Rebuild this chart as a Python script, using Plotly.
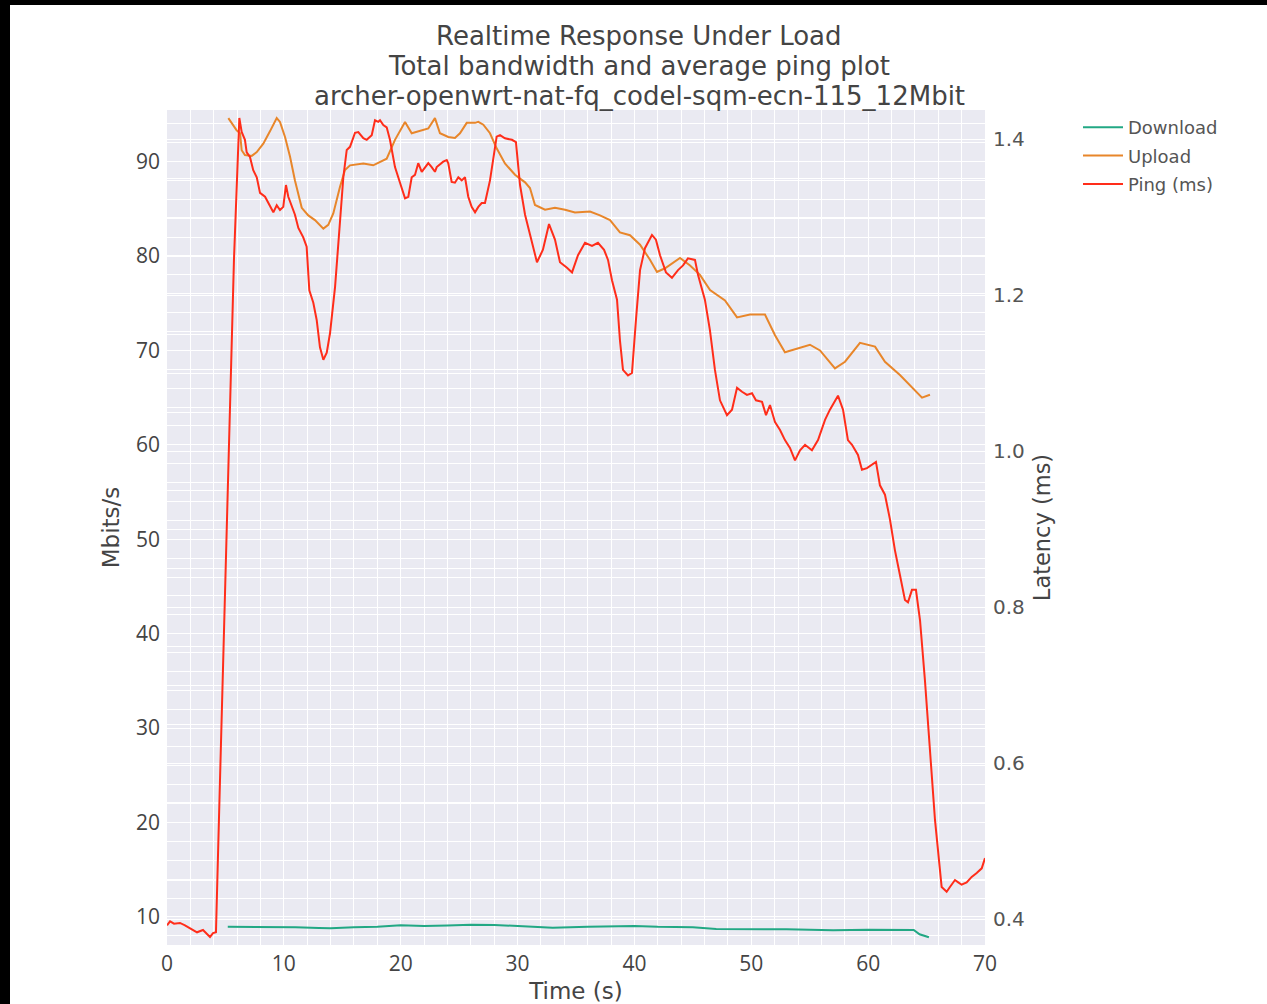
import plotly.graph_objects as go

# ---------------- data ----------------
title_lines = ["Realtime Response Under Load",
               "Total bandwidth and average ping plot",
               "archer-openwrt-nat-fq_codel-sqm-ecn-115_12Mbit"]

download_t = [5.2, 7.0, 9.0, 11.0, 13.0, 14.0, 16.0, 18.0, 20.0, 22.0, 24.0, 26.0, 28.0, 30.0,
              33.0, 36.0, 40.0, 42.0, 45.0, 47.0, 50.0, 53.0, 57.0, 60.0, 63.9, 64.4, 65.2]
download_v = [8.97, 8.97, 8.95, 8.90, 8.82, 8.80, 8.90, 8.95, 9.12, 9.05, 9.10, 9.18, 9.15, 9.05,
              8.87, 8.95, 9.05, 8.95, 8.90, 8.73, 8.75, 8.70, 8.59, 8.65, 8.62, 8.17, 7.85]

upload_t = [5.25, 5.96, 6.25, 6.39, 6.67, 7.25, 7.68, 8.24, 8.81, 9.39, 9.67, 10.10, 10.53, 10.95,
            11.53, 12.09, 12.66, 13.38, 13.80, 14.23, 14.80, 15.23, 15.66, 16.80, 17.65, 18.37,
            18.80, 19.51, 20.37, 20.94, 21.80, 22.36, 22.93, 23.36, 24.07, 24.64, 25.07, 25.65,
            26.36, 26.64, 27.07, 27.64, 28.21, 28.92, 29.78, 30.64, 31.06, 31.49, 32.35, 33.20,
            34.06, 34.91, 36.20, 37.05, 37.91, 38.76, 39.62, 40.48, 41.33, 41.93, 42.62, 43.90,
            44.76, 45.61, 46.47, 47.75, 48.78, 49.89, 51.17, 52.03, 52.88, 54.17, 55.02, 55.88,
            57.16, 58.02, 59.30, 60.59, 61.44, 62.72, 64.01, 64.61, 65.29]
upload_v = [94.6, 93.3, 93.0, 91.2, 90.7, 90.6, 91.0, 91.9, 93.2, 94.6, 94.2, 92.6, 90.5, 88.0,
            85.1, 84.3, 83.8, 82.9, 83.3, 84.5, 87.3, 89.1, 89.6, 89.8, 89.6, 90.0,
            90.3, 92.3, 94.2, 93.0, 93.3, 93.5, 94.6, 93.0, 92.6, 92.5, 93.0, 94.1,
            94.1, 94.2, 93.9, 93.0, 91.4, 89.8, 88.6, 87.8, 87.2, 85.4, 84.9, 85.1,
            84.9, 84.6, 84.7, 84.3, 83.8, 82.5, 82.2, 81.2, 79.6, 78.3, 78.7, 79.8,
            79.0, 78.0, 76.4, 75.3, 73.5, 73.8, 73.8, 71.6, 69.8, 70.3, 70.6, 70.0,
            68.1, 68.8, 70.8, 70.4, 68.8, 67.4, 65.8, 65.0, 65.3]

ping_t = [0.00, 0.26, 0.60, 1.11, 1.54, 1.97, 2.57, 3.08, 3.42, 3.68, 3.94, 4.19, 4.49, 4.77,
          5.05, 5.39, 5.73, 6.19, 6.39, 6.67, 6.82, 7.10, 7.38, 7.68, 7.96, 8.39, 8.67, 9.10,
          9.39, 9.67, 9.95, 10.18, 10.38, 10.67, 10.95, 11.24, 11.66, 11.95, 12.18, 12.52,
          12.81, 13.09, 13.38, 13.67, 13.95, 14.38, 14.80, 15.09, 15.38, 15.66, 16.09, 16.37,
          16.80, 17.09, 17.52, 17.80, 18.08, 18.23, 18.51, 18.80, 19.08, 19.51, 19.94, 20.37,
          20.65, 20.94, 21.22, 21.50, 21.80, 22.08, 22.36, 22.65, 22.93, 23.08, 23.36, 23.64,
          23.94, 24.07, 24.36, 24.64, 24.93, 25.22, 25.50, 25.78, 26.07, 26.36, 26.64, 26.93,
          27.21, 27.64, 28.21, 28.50, 28.92, 29.52, 29.86, 30.21, 30.64, 31.06, 31.66, 32.17,
          32.69, 33.20, 33.63, 34.23, 34.66, 35.17, 35.77, 36.37, 36.88, 37.40, 37.74, 38.08,
          38.51, 38.76, 39.02, 39.45, 39.79, 40.13, 40.48, 40.90, 41.50, 41.84, 42.19, 42.70,
          43.21, 43.73, 44.16, 44.58, 45.18, 45.44, 46.03, 46.46, 46.89, 47.32, 47.92, 48.35,
          48.78, 49.21, 49.63, 50.06, 50.40, 50.92, 51.26, 51.60, 52.03, 52.46, 52.88, 53.31,
          53.74, 54.17, 54.60, 55.19, 55.71, 56.31, 56.73, 57.42, 57.85, 58.27, 58.62, 59.13,
          59.47, 59.90, 60.33, 60.67, 61.01, 61.44, 61.87, 62.29, 62.72, 63.15, 63.41, 63.75,
          64.09, 64.44, 64.86, 65.29, 65.72, 66.29, 66.72, 67.00, 67.43, 67.71, 68.00, 68.43,
          68.86, 69.29, 69.72, 70.00]
ping_v = [0.392, 0.397, 0.394, 0.395, 0.392, 0.388, 0.383, 0.386, 0.381, 0.377, 0.382, 0.383, 0.553, 0.706,
          0.886, 1.065, 1.245, 1.427, 1.409, 1.399, 1.383, 1.377, 1.360, 1.351, 1.331, 1.326, 1.318, 1.306,
          1.315, 1.309, 1.313, 1.341, 1.326, 1.313, 1.303, 1.286, 1.274, 1.262, 1.206, 1.190,
          1.168, 1.133, 1.117, 1.126, 1.151, 1.210, 1.287, 1.351, 1.386, 1.390, 1.408, 1.409,
          1.401, 1.399, 1.405, 1.424, 1.422, 1.424, 1.418, 1.415, 1.399, 1.364, 1.344, 1.324,
          1.326, 1.351, 1.354, 1.369, 1.358, 1.363, 1.369, 1.364, 1.358, 1.364, 1.367, 1.371,
          1.373, 1.369, 1.345, 1.344, 1.351, 1.347, 1.351, 1.326, 1.313, 1.306, 1.313, 1.318,
          1.318, 1.347, 1.403, 1.405, 1.401, 1.399, 1.396, 1.341, 1.303, 1.277, 1.242, 1.258,
          1.291, 1.271, 1.242, 1.235, 1.229, 1.251, 1.267, 1.263, 1.267, 1.258, 1.245, 1.219,
          1.194, 1.142, 1.104, 1.097, 1.100, 1.168, 1.232, 1.260, 1.277, 1.271, 1.251, 1.229,
          1.222, 1.232, 1.238, 1.247, 1.245, 1.226, 1.194, 1.155, 1.104, 1.065, 1.046, 1.053,
          1.081, 1.076, 1.072, 1.074, 1.065, 1.063, 1.046, 1.059, 1.037, 1.027, 1.014, 1.004,
          0.988, 1.001, 1.008, 1.001, 1.014, 1.040, 1.053, 1.071, 1.053, 1.014, 1.008, 0.995,
          0.976, 0.978, 0.982, 0.986, 0.956, 0.944, 0.912, 0.873, 0.841, 0.809, 0.806, 0.822,
          0.822, 0.783, 0.706, 0.617, 0.527, 0.441, 0.435, 0.441, 0.450, 0.447, 0.444, 0.447,
          0.454, 0.459, 0.465, 0.478]

x_ticks = [0, 10, 20, 30, 40, 50, 60, 70]
left_ticks = [10, 20, 30, 40, 50, 60, 70, 80, 90]
right_ticks = [0.4, 0.6, 0.8, 1.0, 1.2, 1.4]
right_tick_text = ["0.4", "0.6", "0.8", "1.0", "1.2", "1.4"]

# ---------------- figure ----------------
TXT = "#444444"
DJ = "DejaVu Sans"
fig = go.Figure()
fig.add_trace(go.Scatter(x=download_t, y=download_v, name="Download", mode="lines",
                         line=dict(color="#22a884", width=2), yaxis="y", legendgroup="a"))
fig.add_trace(go.Scatter(x=upload_t, y=upload_v, name="Upload", mode="lines",
                         line=dict(color="#e8862a", width=2), yaxis="y", legendgroup="b"))
fig.add_trace(go.Scatter(x=ping_t, y=ping_v, name="Ping (ms)", mode="lines",
                         line=dict(color="#ff2d1a", width=2), yaxis="y2", legendgroup="c"))

W, H = 1267, 1004
L, R, T, B = 167, 282, 110, 59
pw, ph = W - L - R, H - T - B

def px_x(p):
    return (p - L) / pw

def px_y(p):
    return (H - B - p) / ph

title_y_px = [36, 66, 96]
annotations = [
    dict(text=txt, xref="paper", yref="paper", x=px_x(639), y=px_y(yp),
         xanchor="center", yanchor="middle", showarrow=False,
         font=dict(family=DJ, size=26, color=TXT))
    for txt, yp in zip(title_lines, title_y_px)
]

fig.update_layout(
    width=W, height=H,
    margin=dict(l=L, r=R, t=T, b=B, pad=0, autoexpand=False),
    paper_bgcolor="white",
    plot_bgcolor="#EAEAF2",
    font=dict(family="Open Sans, Verdana, Arial, sans-serif", color=TXT, size=18),
    annotations=annotations,
    xaxis=dict(
        range=[0, 70], tickvals=x_ticks, showgrid=False, zeroline=False, automargin=False,
        showline=False, ticks="", tickfont=dict(size=21), ticklabelstandoff=4,
        minor=dict(dtick=2, tick0=0, showgrid=True, gridcolor="white", gridwidth=1),
        title=dict(text="Time (s)", font=dict(family=DJ, size=23), standoff=13),
    ),
    yaxis=dict(
        range=[7.03, 95.46], tickvals=left_ticks, showgrid=False, zeroline=False, automargin=False,
        showline=False, ticks="", tickfont=dict(size=21), ticklabelstandoff=6,
        minor=dict(dtick=2, tick0=0, showgrid=True, gridcolor="white", gridwidth=1),
        title=dict(text="Mbits/s", font=dict(family=DJ, size=23), standoff=9),
    ),
    yaxis2=dict(
        overlaying="y", side="right", automargin=False,
        range=[0.3667, 1.4372], tickvals=right_ticks, ticktext=right_tick_text,
        showgrid=True, gridcolor="white", gridwidth=1, zeroline=False,
        showline=False, ticks="", ticklabelstandoff=7,
        tickfont=dict(family=DJ, size=20, color="#555555"),
        minor=dict(dtick=0.05, tick0=0, showgrid=True, gridcolor="white", gridwidth=1),
        title=dict(text="Latency (ms)", font=dict(family=DJ, size=22.5), standoff=10),
    ),
    legend=dict(
        x=px_x(1078), y=px_y(109), xanchor="left", yanchor="top",
        font=dict(family=DJ, size=18, color="#555555"),
        bgcolor="rgba(0,0,0,0)", itemwidth=40, tracegroupgap=2,
    ),
    showlegend=True,
    shapes=[
        dict(type="rect", xref="paper", yref="paper", x0=px_x(-5), x1=px_x(W + 5),
             y0=px_y(5), y1=px_y(-5), fillcolor="black", line=dict(width=0), layer="above"),
        dict(type="rect", xref="paper", yref="paper", x0=px_x(-5), x1=px_x(10),
             y0=px_y(H + 5), y1=px_y(-5), fillcolor="black", line=dict(width=0), layer="above"),
    ],
)

fig.write_html("out.html")
